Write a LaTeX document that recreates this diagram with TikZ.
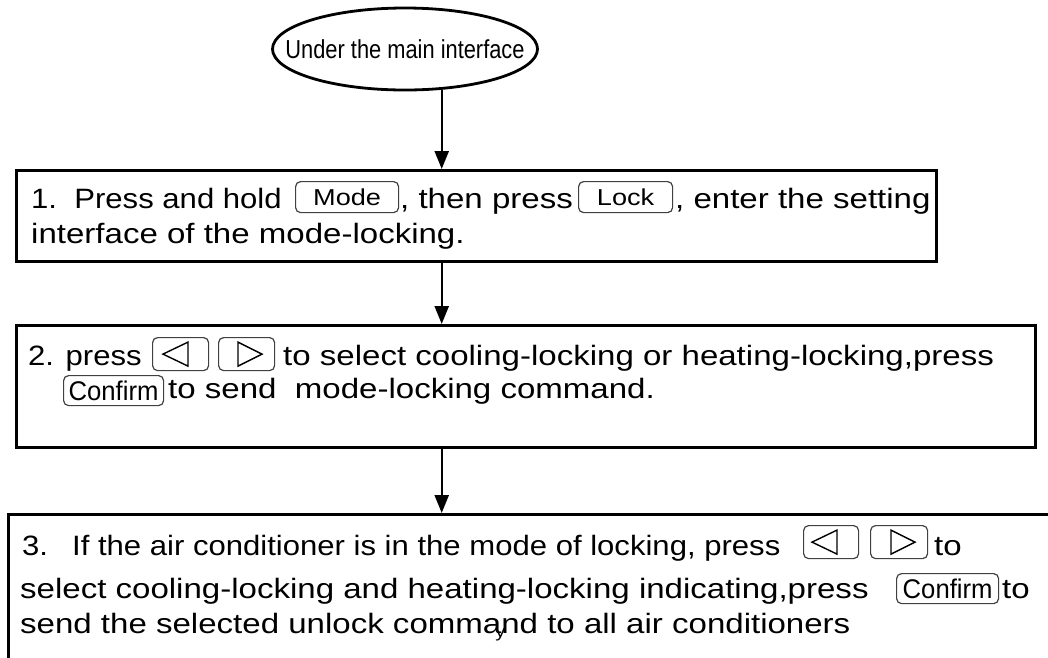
\documentclass[tikz,border=0pt]{standalone}
\usepackage{fontspec}
\setmainfont{Liberation Sans}
\newfontfamily\boxfont{Liberation Sans}[FakeStretch=1.18]
\newfontfamily\tightfont{Liberation Sans}[FakeStretch=1.11]
\newfontfamily\ovalfont{Liberation Sans}[FakeStretch=0.84]
\newfontfamily\narrowfont{Liberation Sans}[FakeStretch=0.95]
\usetikzlibrary{shapes.geometric,arrows.meta,positioning}

\begin{document}
\begin{tikzpicture}[x=1pt, y=-1pt,
    oval/.style={draw=black, ellipse, line width=2.8pt, inner sep=0pt, minimum width=265pt, minimum height=82pt},
    ovaltext/.style={inner sep=0pt, font=\ovalfont\fontsize{26}{28}\selectfont},
    stepbox/.style={draw=black, line width=3.2pt, anchor=north west, inner sep=0pt},
    txt/.style={anchor=base west, inner sep=0pt, font=\boxfont\fontsize{28}{34}\selectfont},
    keybtn/.style={draw=black!75, line width=1.2pt, rounded corners=5pt, anchor=north west, inner sep=0pt, font=\boxfont\fontsize{23}{26}\selectfont},
    tri/.style={draw=black, line width=1.4pt, line join=miter},
    arr/.style={-{Triangle[length=18pt, width=14pt]}, line width=2.4pt},
]
\clip (0,0) rectangle (1048,657);

% Start
\node[oval] (start) at (405,49) {};
\node[ovaltext] (starttext) at (start.center) {Under the main interface};

% Step boxes
\node[stepbox, minimum width=920, minimum height=91] (box1) at (15,169) {};
\node[stepbox, minimum width=1019, minimum height=122] (box2) at (15,324) {};
\node[stepbox, minimum width=1100, minimum height=200] (box3) at (7,513) {};

% Step 1
\node[txt, font=\tightfont\fontsize{28}{34}\selectfont] (s1a) at (31,208) {1.\ \ Press and hold};
\node[keybtn, minimum width=103, minimum height=31] (mode) at (295,181) {Mode};
\node[txt] (s1b) at (400,208) {, then press};
\node[keybtn, minimum width=94, minimum height=31] (lock) at (578,181) {Lock};
\node[txt] (s1c) at (675,208) {, enter the setting};
\node[txt] (s1d) at (31,243) {interface of the mode-locking.};

% Step 2
\node[txt, font=\tightfont\fontsize{28}{34}\selectfont] (s2a) at (28,365) {2. press};
\node[keybtn, minimum width=56, minimum height=33] (left2) at (152,337) {};
\node[keybtn, minimum width=56, minimum height=33] (right2) at (218,337) {};
\node[txt] (s2b) at (283,365) {to select cooling-locking or heating-locking,press};
\node[keybtn, minimum width=100, minimum height=30, font=\narrowfont\fontsize{27}{30}\selectfont] (conf2) at (63,375) {Confirm};
\node[txt] (s2c) at (168,398) {to send\ \ mode-locking command.};

% Step 3
\node[txt, font=\tightfont\fontsize{28}{34}\selectfont] (s3a) at (22,555) {3.\hspace{24pt}If the air conditioner is in the mode of locking, press};
\node[keybtn, minimum width=55, minimum height=33] (left3) at (803,525) {};
\node[keybtn, minimum width=57, minimum height=33] (right3) at (870,525) {};
\node[txt] (s3b) at (934,555) {to};
\node[txt] (s3c) at (20,598) {select cooling-locking and heating-locking indicating,press};
\node[keybtn, minimum width=102, minimum height=30, font=\narrowfont\fontsize{27}{30}\selectfont] (conf3) at (896,573) {Confirm};
\node[txt] (s3d) at (1002,598) {to};
\node[txt] (s3e) at (20,633) {send the selected unlock comma\rlap{\kern-6pt\raisebox{-4pt}{\fontsize{17}{17}\selectfont y}}nd to all air conditioners};

% Arrow glyphs on the keys
\draw[tri] ([xshift=11]left2.west) -- ++(25,-12) -- ++(0,24) -- cycle;
\draw[tri] ([xshift=20]right2.west) ++(0,-12) -- ++(24,12) -- ++(-24,12) -- cycle;
\draw[tri] ([xshift=9]left3.west) -- ++(25,-12) -- ++(0,24) -- cycle;
\draw[tri] ([xshift=21]right3.west) ++(0,-12) -- ++(24,12) -- ++(-24,12) -- cycle;

% Connectors
\coordinate (spine) at (start.-48);
\draw[arr] (spine) -- (spine |- box1.north);
\draw[arr] (spine |- box1.south) -- (spine |- box2.north);
\draw[arr] (spine |- box2.south) -- (spine |- box3.north);

\end{tikzpicture}
\end{document}
